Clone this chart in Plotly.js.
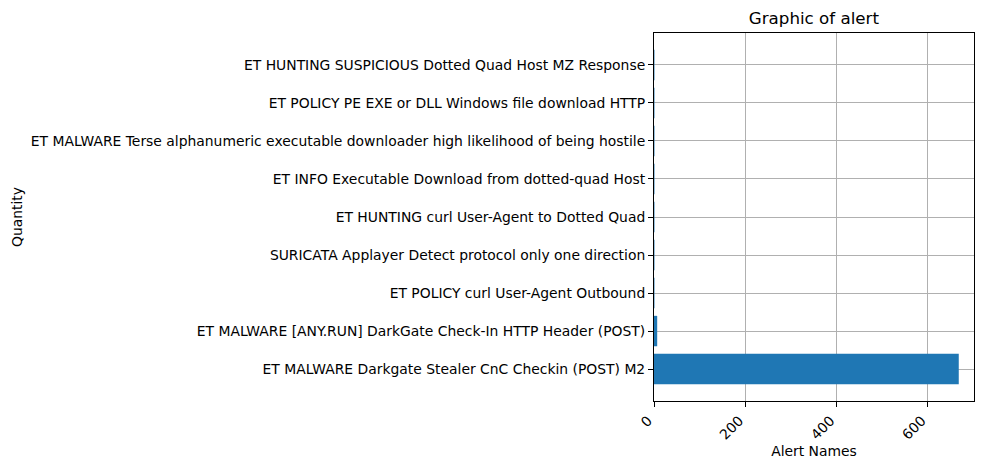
<!DOCTYPE html>
<html>
<head>
<meta charset="utf-8">
<script src="https://cdn.plot.ly/plotly-3.0.1.min.js"></script>
<style>html,body{margin:0;padding:0;background:#fff;}#chart{width:983px;height:469px;}</style>
</head>
<body>
<div id="chart"></div>
<script>
const alertNames = [
  "ET MALWARE Darkgate Stealer CnC Checkin (POST) M2",
  "ET MALWARE [ANY.RUN] DarkGate Check-In HTTP Header (POST)",
  "ET POLICY curl User-Agent Outbound",
  "SURICATA Applayer Detect protocol only one direction",
  "ET HUNTING curl User-Agent to Dotted Quad",
  "ET INFO Executable Download from dotted-quad Host",
  "ET MALWARE Terse alphanumeric executable downloader high likelihood of being hostile",
  "ET POLICY PE EXE or DLL Windows file download HTTP",
  "ET HUNTING SUSPICIOUS Dotted Quad Host MZ Response"
];
const alertCounts = [668, 7, 1, 1, 1, 1, 1, 1, 1];
const xTickValues = [0, 200, 400, 600];

const font = {family: "DejaVu Sans, sans-serif", size: 13.9, color: "#000"};

Plotly.newPlot("chart", [{
  type: "bar",
  orientation: "h",
  x: alertCounts,
  y: alertNames,
  width: 0.8,
  marker: {color: "#1f77b4", line: {width: 0}},
  hoverinfo: "x+y"
}], {
  width: 983, height: 469,
  margin: {l: 654, r: 9, t: 33, b: 68, pad: 0},
  paper_bgcolor: "#fff", plot_bgcolor: "#fff",
  font: font,
  showlegend: false,
  title: {text: "Graphic of alert", font: {family: font.family, size: 16.7, color: "#000"}, x: 0.828, xanchor: "center", y: 0.962, yanchor: "middle"},
  xaxis: {
    range: [0, 701.4],
    tickvals: xTickValues,
    ticktext: xTickValues.map(String),
    tickangle: -45,
    ticklabelshift: -6,
    ticks: "outside", ticklen: 5, tickwidth: 1, tickcolor: "#000",
    showgrid: true, gridcolor: "#b0b0b0", gridwidth: 1,
    showline: true, linecolor: "#000", linewidth: 1, mirror: true,
    zeroline: false,
    tickfont: font,
    title: {text: "Alert Names", font: font, standoff: 4},
    automargin: false, fixedrange: true
  },
  yaxis: {
    type: "category",
    categoryorder: "array",
    categoryarray: alertNames,
    range: [-0.84, 8.84],
    ticks: "outside", ticklen: 5, tickwidth: 1, tickcolor: "#000",
    showgrid: true, gridcolor: "#b0b0b0", gridwidth: 1,
    showline: true, linecolor: "#000", linewidth: 1, mirror: true,
    zeroline: false,
    tickfont: font,
    title: {text: "Quantity", font: font, standoff: 4},
    automargin: false, fixedrange: true
  }
}, {displayModeBar: false, staticPlot: true});
</script>
</body>
</html>
